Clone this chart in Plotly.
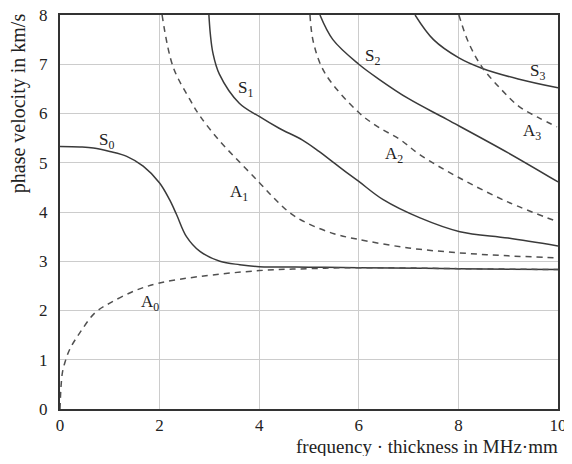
import plotly.graph_objects as go

# Dispersion curves (frequency*thickness in MHz*mm, phase velocity in km/s)
s0_x = [0.0, 0.4, 0.67, 1.0, 1.34, 1.67, 2.0, 2.2, 2.34, 2.54, 2.81, 3.21, 3.61, 4.0, 5.0, 6.0, 8.0, 10.0]
s0_y = [5.33, 5.32, 5.3, 5.23, 5.13, 4.93, 4.59, 4.25, 3.95, 3.5, 3.2, 3.0, 2.93, 2.89, 2.88, 2.87, 2.85, 2.83]

a0_x = [0.0, 0.02, 0.05, 0.1, 0.2, 0.4, 0.7, 1.0, 1.5, 2.0, 2.8, 4.0, 5.0, 6.0, 8.0, 10.0]
a0_y = [0.0, 0.45, 0.75, 0.95, 1.22, 1.55, 1.95, 2.15, 2.4, 2.56, 2.69, 2.81, 2.85, 2.87, 2.85, 2.83]

s1_x = [2.99, 3.02, 3.07, 3.2, 3.6, 4.0, 4.4, 4.87, 5.2, 5.6, 6.0, 6.49, 7.23, 8.03, 9.0, 10.0]
s1_y = [8.0, 7.6, 7.23, 6.8, 6.21, 5.94, 5.7, 5.46, 5.23, 4.92, 4.62, 4.25, 3.88, 3.6, 3.47, 3.31]

a1_x = [2.05, 2.27, 2.61, 2.81, 3.2, 3.6, 4.0, 4.3, 4.62, 4.95, 5.5, 5.96, 7.0, 8.03, 9.0, 10.0]
a1_y = [8.0, 6.95, 6.28, 5.95, 5.45, 5.02, 4.6, 4.28, 3.98, 3.78, 3.56, 3.45, 3.27, 3.17, 3.11, 3.07]

s2_x = [5.22, 5.48, 6.0, 6.4, 7.0, 7.77, 9.0, 10.0]
s2_y = [8.0, 7.5, 7.0, 6.7, 6.3, 5.88, 5.2, 4.61]

a2_x = [5.02, 5.09, 5.32, 6.0, 6.4, 6.83, 7.23, 7.97, 9.0, 10.0]
a2_y = [8.0, 7.44, 6.82, 6.02, 5.72, 5.47, 5.16, 4.72, 4.2, 3.8]

s3_x = [7.13, 7.5, 8.01, 8.47, 9.2, 10.0]
s3_y = [8.0, 7.5, 7.13, 6.92, 6.7, 6.52]

a3_x = [8.01, 8.2, 8.47, 8.85, 9.22, 9.6, 9.98]
a3_y = [8.0, 7.45, 6.95, 6.5, 6.14, 5.92, 5.73]

label_names = ["S<sub>0</sub>", "S<sub>1</sub>", "S<sub>2</sub>", "S<sub>3</sub>",
               "A<sub>0</sub>", "A<sub>1</sub>", "A<sub>2</sub>", "A<sub>3</sub>"]
label_x = [0.94, 3.72, 6.27, 9.58, 1.8, 3.6, 6.7, 9.48]
label_y = [5.45, 6.5, 7.15, 6.85, 2.15, 4.38, 5.16, 5.62]

x_ticks = [0, 2, 4, 6, 8, 10]
y_ticks = [0, 1, 2, 3, 4, 5, 6, 7, 8]

FONT = "Liberation Serif"
TXT = "#222222"
SOLID = dict(color="#3a3a3a", width=1.5, shape="spline", smoothing=1.0)
DASH = dict(color="#505050", width=1.5, dash="6px,5px", shape="spline", smoothing=1.0)

fig = go.Figure()
for xs, ys, ln in [(s0_x, s0_y, SOLID), (s1_x, s1_y, SOLID), (s2_x, s2_y, SOLID), (s3_x, s3_y, SOLID),
                   (a0_x, a0_y, DASH), (a1_x, a1_y, DASH), (a2_x, a2_y, DASH), (a3_x, a3_y, DASH)]:
    fig.add_trace(go.Scatter(x=xs, y=ys, mode="lines", line=ln, showlegend=False, hoverinfo="skip"))

for name, lx, ly in zip(label_names, label_x, label_y):
    fig.add_annotation(x=lx, y=ly, text=name, showarrow=False,
                       font=dict(family=FONT, size=17, color=TXT))

fig.add_annotation(xref="paper", yref="paper", x=1.004, y=-0.094, xanchor="right", yanchor="middle",
                   text="frequency · thickness in MHz·mm", showarrow=False,
                   font=dict(family=FONT, size=19, color=TXT))
fig.add_annotation(xref="paper", yref="paper", x=-0.084, y=1.01, xanchor="center", yanchor="top",
                   text="phase velocity in km/s", textangle=-90, showarrow=False,
                   font=dict(family=FONT, size=20, color=TXT))

axis_common = dict(showgrid=True, gridcolor="#cccccc", gridwidth=1, zeroline=False,
                   showline=True, linecolor="#333333", linewidth=2, mirror=True, automargin=False,
                   ticks="", ticklabeloverflow="allow",
                   tickfont=dict(family=FONT, size=17, color=TXT))

fig.update_xaxes(range=[0, 10], tickvals=x_ticks, ticktext=[str(v) for v in x_ticks], **axis_common)
fig.update_yaxes(range=[0, 8], tickvals=y_ticks, ticktext=[str(v) for v in y_ticks],
                 ticklabelstandoff=7, **axis_common)

# The page body has an 8px margin, so the figure is sized to fit inside the 572x464 window
fig.update_layout(width=564, height=448, margin=dict(l=52, r=14, t=7, b=47),
                  plot_bgcolor="white", paper_bgcolor="white")

fig.write_html("out.html")
